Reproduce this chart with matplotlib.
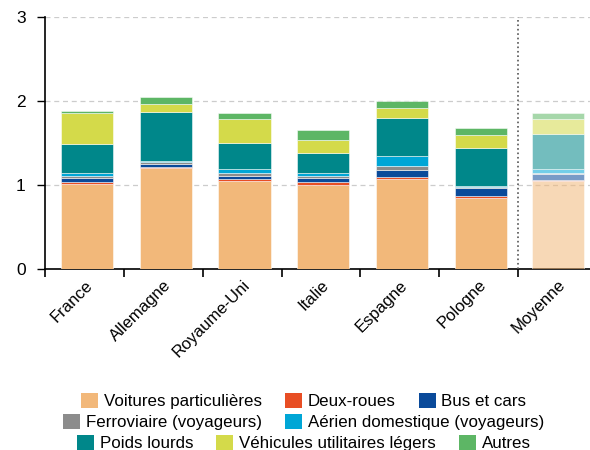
import numpy as np
import matplotlib.pyplot as plt
from matplotlib.patches import Patch

plt.rcParams['font.family'] = ['Liberation Sans', 'DejaVu Sans']

pays = ['France', 'Allemagne', 'Royaume-Uni', 'Italie', 'Espagne', 'Pologne', 'Moyenne']
categories = ['Voitures particulières', 'Deux-roues', 'Bus et cars',
              'Ferroviaire (voyageurs)', 'Aérien domestique (voyageurs)',
              'Poids lourds', 'Véhicules utilitaires légers', 'Autres']

voitures = [1.016, 1.200, 1.050, 1.000, 1.068, 0.850, 1.045]
deux_roues = [0.020, 0.020, 0.020, 0.035, 0.030, 0.020, 0.010]
bus = [0.050, 0.030, 0.040, 0.050, 0.085, 0.100, 0.075]
ferroviaire = [0.020, 0.025, 0.030, 0.017, 0.040, 0.005, 0.010]
aerien = [0.035, 0.012, 0.045, 0.040, 0.120, 0.015, 0.050]
poids_lourds = [0.350, 0.585, 0.315, 0.240, 0.449, 0.450, 0.417]
vul = [0.365, 0.090, 0.290, 0.155, 0.123, 0.158, 0.180]
autres = [0.025, 0.085, 0.070, 0.120, 0.087, 0.080, 0.070]

series = [voitures, deux_roues, bus, ferroviaire, aerien, poids_lourds, vul, autres]
couleurs = ['#F2B87A', '#E84E24', '#0A4A9A', '#8C8C8C', '#00A6D6',
            '#00878A', '#D4DA4A', '#5DB665']

fig = plt.figure(figsize=(5.9, 4.5), dpi=100)
ax = fig.add_axes([45 / 590, 1 - 269 / 450, 552 / 590, 252 / 450])

x = np.arange(len(pays))
bas = np.zeros(len(pays))
for vals, col in zip(series, couleurs):
    vals = np.array(vals)
    # pays
    ax.bar(x[:-1] + 0.03, vals[:-1], 0.66, bottom=bas[:-1], color=col,
           edgecolor=(1, 1, 1, 0.6), linewidth=0.6, zorder=3)
    # moyenne, en plus clair
    ax.bar(x[-1:], vals[-1:], 0.66, bottom=bas[-1:], color=col, alpha=0.55,
           edgecolor=(1, 1, 1, 0.6), linewidth=0.6, zorder=3)
    bas += vals

ax.set_xlim(-0.5, 6.5)
ax.set_ylim(0, 3)
ax.set_yticks([0, 1, 2, 3])
ax.yaxis.grid(True, linestyle=(0, (4, 3)), color='#cccccc', linewidth=0.9, zorder=0)
ax.axvline(5.5, color='#555555', linestyle=':', linewidth=1.2, zorder=4)

ax.set_xticks(x)
ax.set_xticklabels(pays, rotation=45, ha='right', rotation_mode='anchor', fontsize=12)
ax.tick_params(axis='x', length=0, pad=6)
ax.set_xticks(np.arange(-0.5, 6.0, 1.0), minor=True)
ax.tick_params(axis='x', which='minor', length=6, width=1.2, direction='out')
ax.tick_params(axis='y', labelsize=12.5, length=6, width=1, pad=8)

for s in ['top', 'right']:
    ax.spines[s].set_visible(False)
for s in ['left', 'bottom']:
    ax.spines[s].set_linewidth(1.2)

lignes = [[0, 1, 2], [3, 4], [5, 6, 7]]
ys = [401, 422, 443]
for idx, yp in zip(lignes, ys):
    handles = [Patch(facecolor=couleurs[i], label=categories[i]) for i in idx]
    fig.legend(handles=handles, loc='center', bbox_to_anchor=(0.515, 1 - yp / 450),
               ncol=len(idx), frameon=False, fontsize=12.2, handlelength=1.0,
               handleheight=1.0, handletextpad=0.35, columnspacing=1.35,
               borderpad=0, borderaxespad=0)

fig.savefig('out.png', dpi=100)
